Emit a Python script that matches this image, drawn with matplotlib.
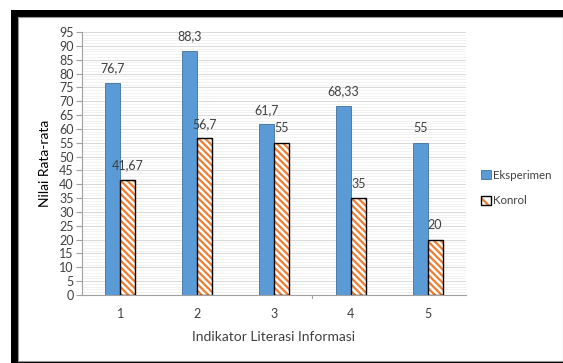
import numpy as np
import matplotlib.pyplot as plt
from matplotlib.patches import Rectangle, Patch

plt.rcParams['font.family'] = ['Lato', 'DejaVu Sans']
plt.rcParams['hatch.linewidth'] = 1.6

categories = ['1', '2', '3', '4', '5']
eksperimen = [76.7, 88.3, 61.7, 68.33, 55]
kontrol = [41.67, 56.7, 55, 35, 20]
eksperimen_labels = ['76,7', '88,3', '61,7', '68,33', '55']
kontrol_labels = ['41,67', '56,7', '55', '35', '20']

blue = '#5B9BD5'
orange = '#ED7D31'
text_color = '#404040'
stripes = '\\' * 5

fig = plt.figure(figsize=(5.63, 3.63), dpi=100)

# black frame round the chart
fig.patches.append(Rectangle((11 / 563, 0), 552 / 563, (363 - 10) / 363, transform=fig.transFigure,
                             facecolor='black', edgecolor='none', zorder=-2))
fig.patches.append(Rectangle((18 / 563, 2 / 363), 545 / 563, (363 - 17 - 2) / 363, transform=fig.transFigure,
                             facecolor='white', edgecolor='#999999', linewidth=0.8, zorder=-1))

ax = fig.add_axes([82 / 563, 68 / 363, 384 / 563, 263 / 363])
ax.patch.set_alpha(0)
x = np.arange(1, len(categories) + 1)
w = 0.195

ax.bar(x - w / 2, eksperimen, width=w, color=blue, edgecolor='#41719C', linewidth=0.6, zorder=3)
# hatched bars: stripes first, then black outline on top
ax.bar(x + w / 2, kontrol, width=w, facecolor='white', edgecolor=orange, hatch=stripes, linewidth=0, zorder=3)
ax.bar(x + w / 2, kontrol, width=w, facecolor='none', edgecolor='black', linewidth=1.0, zorder=4)

for xi, v, s in zip(x, eksperimen, eksperimen_labels):
    ax.annotate(s, (xi - w / 2, v), xytext=(0, 6), textcoords='offset points',
                ha='center', va='bottom', fontsize=9, color=text_color)
for xi, v, s in zip(x, kontrol, kontrol_labels):
    ax.annotate(s, (xi + w / 2, v), xytext=(0, 6), textcoords='offset points',
                ha='center', va='bottom', fontsize=9, color=text_color)

ax.set_xlim(0.5, 5.5)
ax.set_ylim(0, 95)
ax.set_yticks(np.arange(0, 96, 5))
ax.set_yticks(np.arange(0, 96, 1), minor=True)
ax.set_xticks(x)
ax.set_xticklabels(categories)
ax.grid(axis='y', which='major', color='#D9D9D9', linewidth=0.7, zorder=0)
ax.grid(axis='y', which='minor', color='#EDEDED', linewidth=0.5, zorder=0)
ax.tick_params(axis='y', which='major', direction='out', length=4, color='#A0A0A0',
               labelsize=9, labelcolor=text_color, pad=2)
ax.tick_params(axis='y', which='minor', length=0)
ax.tick_params(axis='x', which='major', length=0, labelsize=9, labelcolor=text_color, pad=9)

for side in ['top', 'right']:
    ax.spines[side].set_visible(False)
ax.spines['left'].set_color('#A0A0A0')
ax.spines['bottom'].set_color('#A0A0A0')
ax.spines['left'].set_linewidth(0.8)
ax.spines['bottom'].set_linewidth(0.8)

# category separator tick on the x axis
ax.plot([3.5, 3.5], [0, -1.2], color='#A0A0A0', linewidth=0.8, clip_on=False, zorder=2)

ax.set_ylabel('Nilai Rata-rata', fontsize=10, color='black', labelpad=6)
ax.set_xlabel('Indikator Literasi Informasi', fontsize=10, color=text_color, labelpad=8)

konrol_handle = (Patch(facecolor='white', edgecolor=orange, hatch='\\\\', linewidth=0),
                 Patch(facecolor='none', edgecolor='black', linewidth=1.0))
handles = [Patch(facecolor=blue, edgecolor='#41719C', linewidth=0.6), konrol_handle]
leg = fig.legend(handles, ['Eksperimen', 'Konrol'], loc='center left',
                 bbox_to_anchor=(478 / 563, 1 - 188 / 363), frameon=False, fontsize=8.3,
                 handlelength=0.8, handleheight=0.8, handletextpad=0.2, labelspacing=1.3,
                 borderaxespad=0, borderpad=0.3)
for t in leg.get_texts():
    t.set_color(text_color)

fig.savefig('out.png', dpi=100)
